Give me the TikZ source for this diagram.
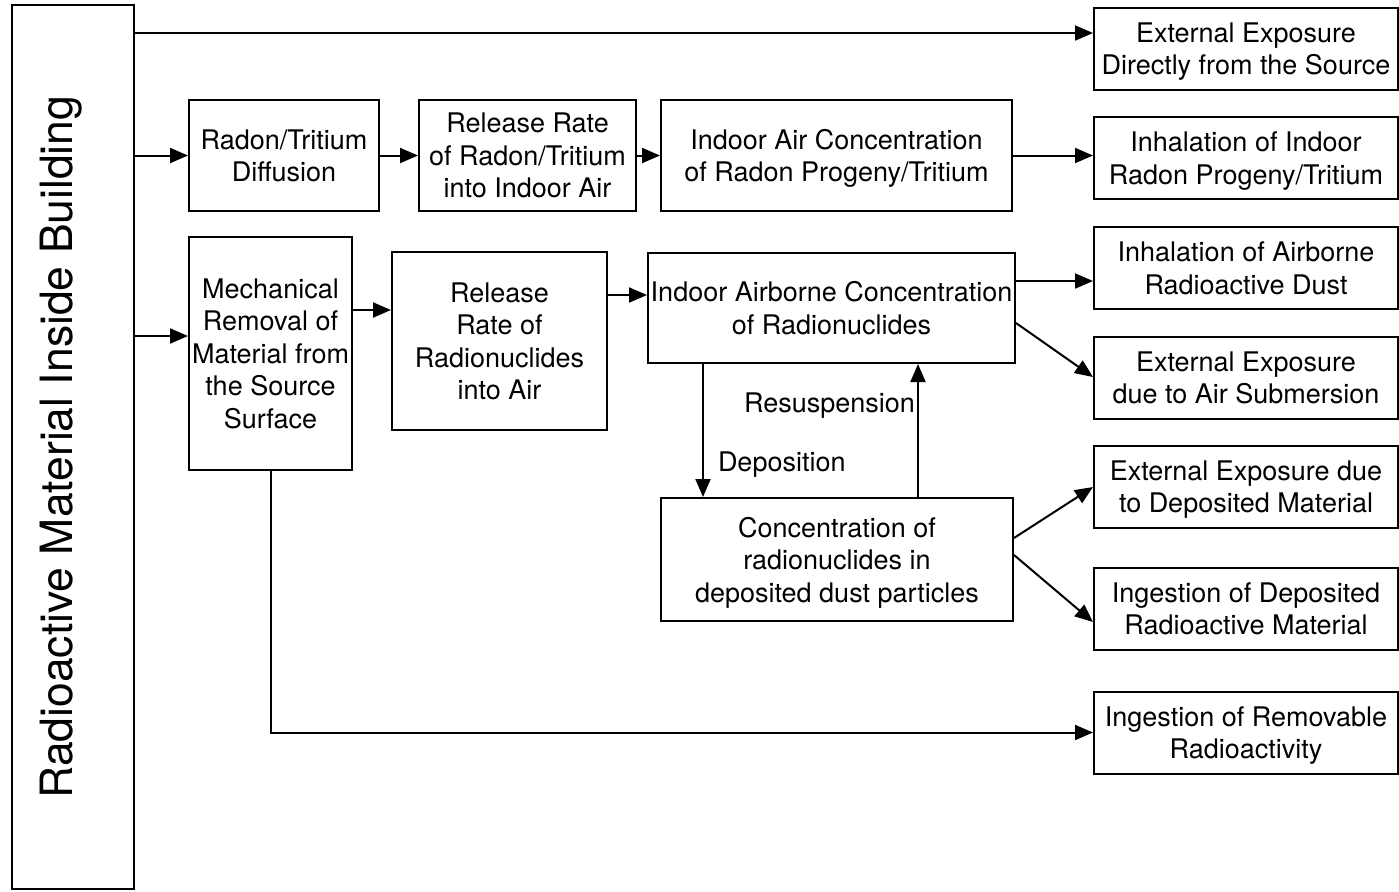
\documentclass[tikz,border=0pt]{standalone}
\usepackage{fontspec}
\setmainfont{TeX Gyre Heros}
\usetikzlibrary{arrows.meta}

\begin{document}
\begin{tikzpicture}[x=0.5pt, y=-0.5pt, >={Triangle[length=9pt,width=7.5pt]}]
    \tikzstyle{pathway}=[draw=black, line width=1pt, align=center, inner sep=0pt, text depth=-2pt,
                         font=\fontsize{13.5}{16.25}\selectfont]
    \tikzstyle{outcome}=[pathway, minimum width=152pt, minimum height=41pt]
    \tikzstyle{flow}=[->, line width=1pt]
    \tikzstyle{note}=[inner sep=0pt, font=\fontsize{13.5}{16.25}\selectfont]
    \useasboundingbox (0,0) rectangle (1399,891);

    % Source of the radioactivity
    \node[pathway, minimum width=61pt, minimum height=442pt] (source) at (73,447) {};
    \node[rotate=90, inner sep=0pt, font=\fontsize{22.25}{26}\selectfont] (source-text) at (61,447) {Radioactive Material Inside Building};

    % Intermediate steps
    \node[pathway, minimum width=95pt, minimum height=55.5pt] (diffuse) at (284,155.5) {Radon/Tritium\\Diffusion};
    \node[pathway, minimum width=108.5pt, minimum height=55.5pt] (rnrelease) at (527.5,155.5) {Release Rate\\of Radon/Tritium\\into Indoor Air};
    \node[pathway, minimum width=175.5pt, minimum height=55.5pt] (rnconc) at (836.5,155.5) {Indoor Air Concentration\\of Radon Progeny/Tritium};
    \node[pathway, minimum width=81.5pt, minimum height=116.5pt] (mech) at (270.5,353.5) {Mechanical\\Removal of\\Material from\\the Source\\Surface};
    \node[pathway, minimum width=107.5pt, minimum height=89pt] (release) at (499.5,341) {Release\\Rate of\\Radionuclides\\into Air};
    \node[pathway, minimum width=183.5pt, minimum height=55pt] (airconc) at (831.5,308) {Indoor Airborne Concentration\\of Radionuclides};
    \node[pathway, minimum width=176pt, minimum height=61.5pt] (depconc) at (837,559.5) {Concentration of\\radionuclides in\\deposited dust particles};

    % Exposure pathways
    \foreach \name/\y/\txt in {1/48.5/{External Exposure\\Directly from the Source},
                               2/158/{Inhalation of Indoor\\Radon Progeny/Tritium},
                               3/268/{Inhalation of Airborne\\Radioactive Dust},
                               4/377.5/{External Exposure\\due to Air Submersion},
                               5/486.5/{External Exposure due\\to Deposited Material},
                               6/608.5/{Ingestion of Deposited\\Radioactive Material},
                               7/732.5/{Ingestion of Removable\\Radioactivity}}
        \node[outcome] (R-\name) at (1246,\y) {\txt};

    % Connections
    \draw[flow] (source.east |- 0,33) -- (R-1.west |- 0,33);
    \draw[flow] (source.east |- diffuse.west) -- (diffuse.west);
    \draw[flow] (diffuse) -- (rnrelease);
    \draw[flow] (rnrelease) -- (rnconc);
    \draw[flow] (rnconc.east) -- (rnconc.east -| R-2.west);
    \draw[flow] (source.east |- 0,336) -- (mech.west |- 0,336);
    \draw[flow] (mech.east |- 0,310) -- (release.west |- 0,310);
    \draw[flow] (release.east |- 0,295) -- (airconc.west |- 0,295);
    \draw[flow] (airconc.east |- 0,281) -- (R-3.west |- 0,281);
    \draw[flow] (airconc.east |- 0,323) -- (R-4.west |- 0,377);
    \draw[flow] (airconc.south -| 703,0) -- node[note, pos=0.76, right=7pt] {Deposition} (depconc.north -| 703,0);
    \draw[flow] (depconc.north -| 918,0) -- node[note, pos=0.69, left=1pt] {Resuspension} (airconc.south -| 918,0);
    \draw[flow] (depconc.east |- 0,538) -- (R-5.west |- 0,487);
    \draw[flow] (depconc.east |- 0,555) -- (R-6.west |- 0,622);
    \draw[flow] (mech.south) |- (R-7.west);
\end{tikzpicture}
\end{document}
